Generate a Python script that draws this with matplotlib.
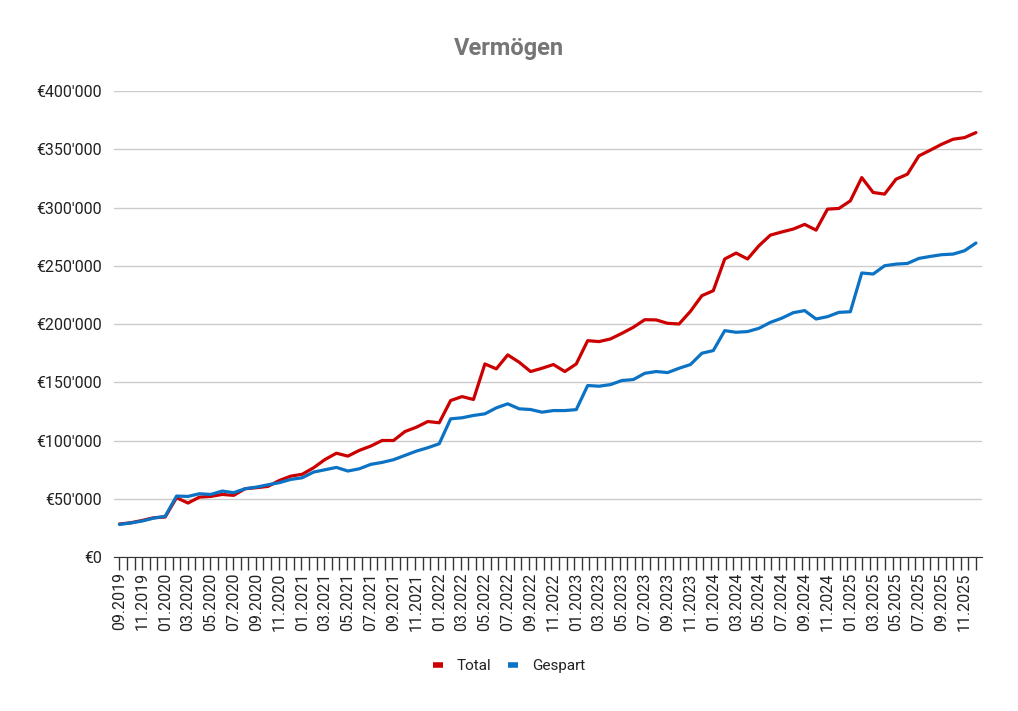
import matplotlib.pyplot as plt
import numpy as np
import pandas as pd
from matplotlib.ticker import FuncFormatter

plt.rcParams['font.family'] = ['Roboto', 'DejaVu Sans']

# Monatswerte in Tausend Euro, 09.2019 bis 12.2025
months = pd.date_range('2019-09-01', periods=76, freq='MS').strftime('%m.%Y').tolist()

total = [28.3, 29.4, 31.4, 33.7, 34.3, 50.9, 46.3, 51.4, 52.0, 53.7,
         52.9, 58.6, 59.5, 60.6, 65.7, 69.4, 71.0, 76.6, 83.7, 89.1,
         86.6, 91.5, 95.2, 100.0, 100.0, 107.7, 111.4, 116.3, 115.2, 134.3,
         137.7, 135.2, 165.7, 161.5, 173.5, 167.2, 159.2, 162.0, 165.2, 159.2,
         165.7, 185.7, 184.9, 187.2, 192.0, 197.2, 203.7, 203.5, 200.6, 200.0,
         210.9, 224.3, 228.6, 255.8, 260.9, 255.8, 267.2, 276.3, 279.0, 281.5,
         285.5, 280.6, 298.6, 299.2, 305.7, 325.7, 312.9, 311.5, 324.3, 328.6,
         344.3, 349.2, 354.3, 358.6, 360.0, 364.3]

gespart = [28.0, 29.2, 30.9, 33.4, 34.9, 52.3, 52.0, 54.3, 53.7, 56.6,
           55.2, 58.6, 60.0, 62.0, 63.8, 66.6, 68.0, 72.9, 74.9, 76.9,
           73.8, 75.7, 79.5, 81.2, 83.5, 87.2, 90.9, 93.8, 97.2, 118.6,
           119.5, 121.5, 122.9, 128.0, 131.5, 127.2, 126.6, 124.3, 125.7, 125.7,
           126.5, 147.2, 146.6, 148.0, 151.5, 152.3, 157.7, 159.2, 158.3, 162.0,
           165.2, 174.9, 177.2, 194.3, 192.9, 193.5, 196.3, 201.4, 205.0, 209.7,
           211.5, 204.3, 206.3, 210.0, 210.5, 243.8, 242.9, 250.0, 251.4, 252.0,
           256.3, 258.0, 259.5, 260.0, 262.9, 269.5]

x = np.arange(len(months))

fig = plt.figure(figsize=(10.18, 7.11), dpi=100)
ax = fig.add_axes([0.1123, 0.2166, 0.852, 0.6554])

ax.plot(x, np.array(total) * 1000, color='#cc0000', lw=2.3, label='Total',
        solid_joinstyle='round', solid_capstyle='round')
ax.plot(x, np.array(gespart) * 1000, color='#0b72c4', lw=2.3, label='Gespart',
        solid_joinstyle='round', solid_capstyle='round')

ax.set_xlim(-0.45, 75.5)
ax.set_ylim(0, 400000)
ax.set_yticks(np.arange(0, 400001, 50000))
ax.yaxis.set_major_formatter(FuncFormatter(
    lambda v, p: '€' + f'{int(v):,}'.replace(',', "'")))
ax.grid(axis='y', color='#cccccc', lw=1)
ax.set_axisbelow(True)

# kleine Striche, Beschriftung jeden zweiten Monat
ax.xaxis.remove_overlapping_locs = False
ax.set_xticks(np.linspace(0, 75, 114))
ax.set_xticklabels([])
ax.tick_params(axis='x', which='major', length=9, width=1, color='#333333')
ax.set_xticks(x[::2], months[::2], minor=True)
ax.tick_params(axis='x', which='minor', length=0, pad=11, rotation=90,
               labelsize=11.5, labelcolor='#222222')
ax.tick_params(axis='y', length=0, pad=9, labelsize=11.5, labelcolor='#222222')

for s in ['top', 'right', 'left']:
    ax.spines[s].set_visible(False)
ax.spines['bottom'].set_color('#333333')

fig.suptitle('Vermögen', y=0.948, fontsize=17, fontweight='bold', color='#757575')
fig.legend(loc='center', bbox_to_anchor=(0.5, 0.063), ncol=2, frameon=False,
           fontsize=11, handlelength=0.7, handletextpad=0.9, columnspacing=1.05,
           labelcolor='#222222')
for line in fig.legends[0].get_lines():
    line.set_linewidth(4)
    line.set_solid_capstyle('butt')

fig.savefig('out.png', dpi=100)
